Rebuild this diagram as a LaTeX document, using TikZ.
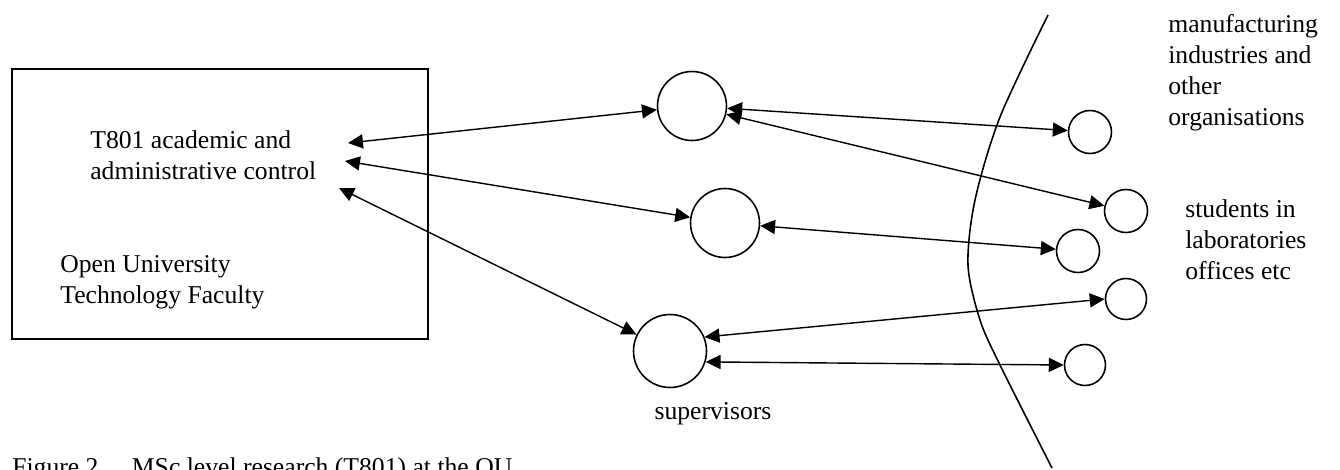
\documentclass[tikz,border=0pt]{standalone}
\usepackage{fontspec}
\setmainfont{Liberation Serif}
\usetikzlibrary{arrows.meta}

\tikzset{
  txt/.style={inner sep=0pt, align=left, font=\fontsize{14.6}{17.6}\selectfont},
  bigdot/.style={draw, circle, line width=0.9pt, minimum size=1.38cm, inner sep=0pt},
  smalldot/.style={draw, circle, line width=0.9pt, minimum size=0.86cm, inner sep=0pt},
  link/.style={line width=0.8pt, {Triangle[length=8.5pt,width=8pt]}-{Triangle[length=8.5pt,width=8pt]}}
}

\begin{document}
\begin{tikzpicture}[x=0.02cm,y=-0.02cm]
    \useasboundingbox (0,0) rectangle (1340,470);

    % faculty box
    \draw[line width=0.9pt] (12,69) rectangle (428,339);
    \node[txt, anchor=base west] (ctrl) at (90,179) {T801 academic and\\administrative control};
    \node[txt, anchor=base west] (ou) at (60,303) {Open University\\Technology Faculty};

    \coordinate (in1) at (348,143);
    \coordinate (in2) at (345,161);
    \coordinate (in3) at (339,188);

    % supervisors
    \node[bigdot] (sup1) at (692,106) {};
    \node[bigdot] (sup2) at (725,223) {};
    \node[bigdot, minimum size=1.46cm] (sup3) at (670,351) {};
    \node[txt, anchor=base] (suplbl) at (713,419) {supervisors};

    % students
    \node[smalldot] (st1) at (1090,132) {};
    \node[smalldot] (st2) at (1126,211) {};
    \node[smalldot] (st3) at (1078,251) {};
    \node[smalldot, minimum size=0.82cm] (st4) at (1126,299) {};
    \node[smalldot, minimum size=0.82cm] (st5) at (1085,365) {};

    \node[txt, anchor=base west] (ind) at (1168,125) {manufacturing\\industries and\\other\\organisations};
    \node[txt, anchor=base west] (stlbl) at (1185,279) {students in\\laboratories\\offices etc};

    % boundary
    \draw[line width=0.9pt] plot[smooth] coordinates {(1048,15) (1000,117) (975,200) (968,265) (980,320) (1000,365) (1052,468)};

    \draw[link] (in1) -- (sup1);
    \draw[link] (in2) -- (sup2);
    \draw[link] (in3) -- (sup3);

    \draw[link] (sup1) -- (st1);
    \draw[link] (sup1) -- (st2);
    \draw[link] (sup2) -- (st3);
    \draw[link] (sup3.22) -- (st4.west);
    \draw[link] (sup3.-17) -- (st5.west);

    \node[txt, anchor=base west] (cap) at (12,475) {Figure 2\hspace{19pt}MSc level research (T801) at the OU};
\end{tikzpicture}
\end{document}
